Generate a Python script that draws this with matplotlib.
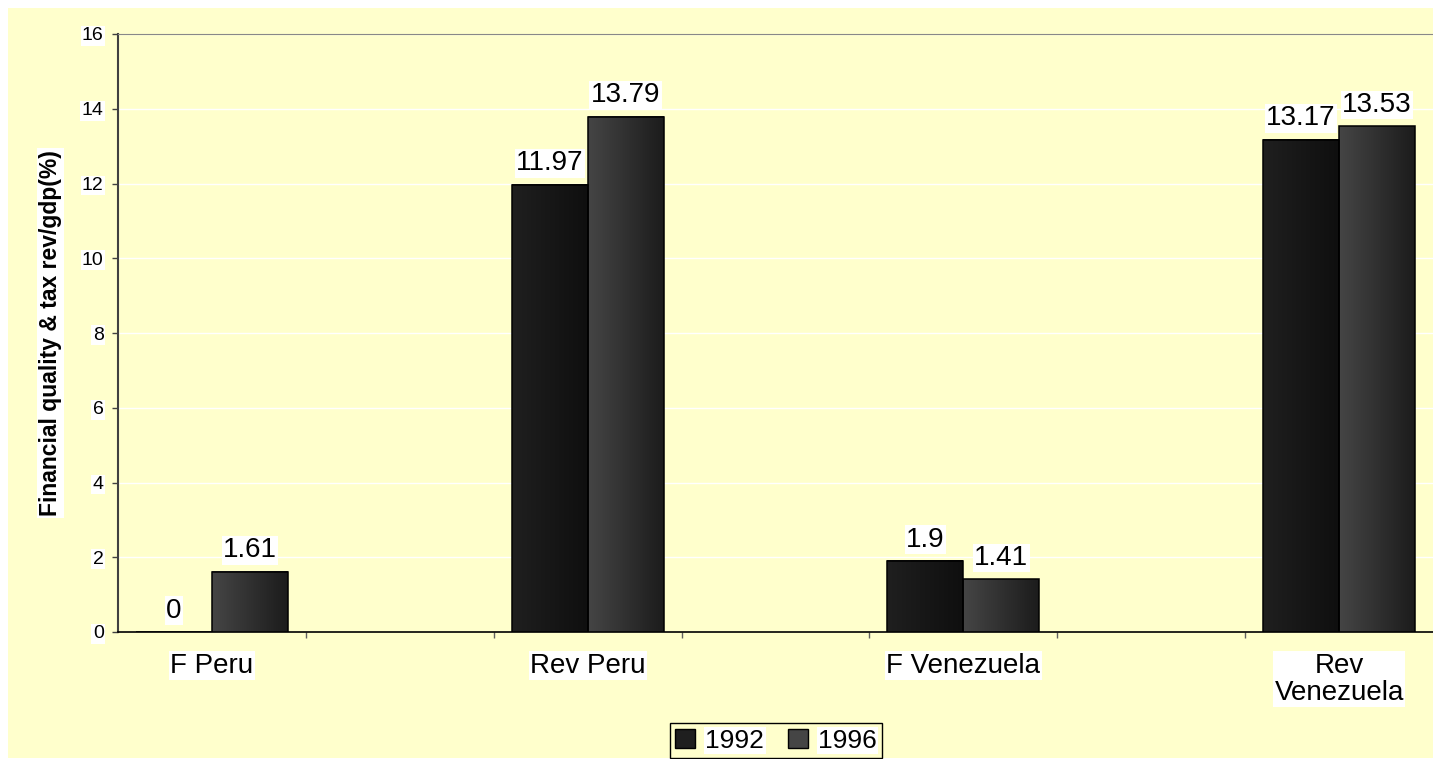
import numpy as np
import matplotlib
matplotlib.use("Agg")
import matplotlib.pyplot as plt
from matplotlib.patches import Rectangle, Patch
from matplotlib.colors import LinearSegmentedColormap

# data
categories = ["F Peru", "Rev Peru", "F Venezuela", "Rev\nVenezuela"]
years = ["1992", "1996"]
values_1992 = [0, 11.97, 1.9, 13.17]
values_1996 = [1.61, 13.79, 1.41, 13.53]
y_ticks = [0, 2, 4, 6, 8, 10, 12, 14, 16]
y_label = "Financial quality & tax rev/gdp(%)"

plt.rcParams["font.family"] = ["Liberation Sans", "DejaVu Sans"]

bg = "#FFFFCC"
col_1992 = ("#1f1f1f", "#0f0f0f")
col_1996 = ("#454545", "#1c1c1c")

fig = plt.figure(figsize=(14.33, 7.59), dpi=100)
fig.patch.set_facecolor("white")
fig.add_artist(Rectangle((8 / 1433, 1 / 759), 1 - 8 / 1433, 750 / 759,
                         transform=fig.transFigure, facecolor=bg,
                         edgecolor="none", zorder=-10))

ax = fig.add_axes([118 / 1433, 1 - 632 / 759, 1315 / 1433, 598 / 759])
ax.set_facecolor(bg)

# categories sit on every other slot (blank columns in between, as in the sheet)
x = np.arange(len(categories)) * 2
w = 0.4045

bars_a = ax.bar(x - w / 2, values_1992, w, facecolor="none",
                edgecolor="black", linewidth=1.1, zorder=4)
bars_b = ax.bar(x + w / 2, values_1996, w, facecolor="none",
                edgecolor="black", linewidth=1.1, zorder=4)


def shade(bars, cols):
    # left-to-right gradient fill inside each bar
    cmap = LinearSegmentedColormap.from_list("g", list(cols))
    grad = np.linspace(0, 1, 64).reshape(1, -1)
    for b in bars:
        if b.get_height() <= 0:
            continue
        ax.imshow(grad, cmap=cmap, aspect="auto", interpolation="bilinear",
                  extent=[b.get_x(), b.get_x() + b.get_width(), 0, b.get_height()],
                  zorder=3)


shade(bars_a, col_1992)
shade(bars_b, col_1996)

for bars in (bars_a, bars_b):
    ax.bar_label(bars, labels=[f"{v:g}" for v in bars.datavalues], padding=6,
                 fontsize=20, zorder=5,
                 bbox=dict(facecolor="white", edgecolor="none", pad=1.0))

ax.set_xlim(-0.5, 6.5)
ax.set_ylim(0, 16)
ax.set_yticks(y_ticks)
ax.set_xticks(x)
ax.set_xticklabels(categories, linespacing=1.05)
ax.set_xticks(np.arange(0.5, 6, 1), minor=True)

ax.tick_params(axis="y", direction="out", length=4.3, width=1, color="#404040",
               labelsize=14, pad=6)
ax.tick_params(axis="x", which="major", length=0, pad=15, labelsize=20)
ax.tick_params(axis="x", which="minor", direction="out", length=4.3, width=1,
               color="#606060")
for t in ax.get_yticklabels() + ax.get_xticklabels():
    t.set_bbox(dict(facecolor="white", edgecolor="none", pad=1.0))

ax.yaxis.grid(True, color="white", linewidth=1)
ax.set_axisbelow(True)
ax.spines["top"].set_color("#888888")
ax.spines["right"].set_visible(False)
ax.spines["left"].set_color("#404040")
ax.spines["left"].set_linewidth(1.5)
ax.spines["bottom"].set_color("black")
ax.spines["bottom"].set_linewidth(1.2)

ax.set_ylabel(y_label, fontsize=16.5, fontweight="bold",
              bbox=dict(facecolor="white", edgecolor="none", pad=1.5))
ax.yaxis.set_label_coords(-0.051, 0.5)
ax.yaxis.label.set_va("center")

handles = [Patch(facecolor=col_1992[0], edgecolor="black"),
           Patch(facecolor=col_1996[0], edgecolor="black")]
leg = fig.legend(handles, years, loc="lower center",
                 bbox_to_anchor=(776 / 1433, 1 / 759), ncol=2, fontsize=19,
                 frameon=True, fancybox=False, edgecolor="black", facecolor=bg,
                 framealpha=1, handlelength=0.75, handleheight=0.75,
                 handletextpad=0.4, columnspacing=0.9, borderpad=0.2,
                 borderaxespad=0)
leg.get_frame().set_linewidth(1)
for t in leg.get_texts():
    t.set_bbox(dict(facecolor="white", edgecolor="none", pad=1.0))

fig.savefig("out.png", dpi=100, facecolor=fig.get_facecolor())
